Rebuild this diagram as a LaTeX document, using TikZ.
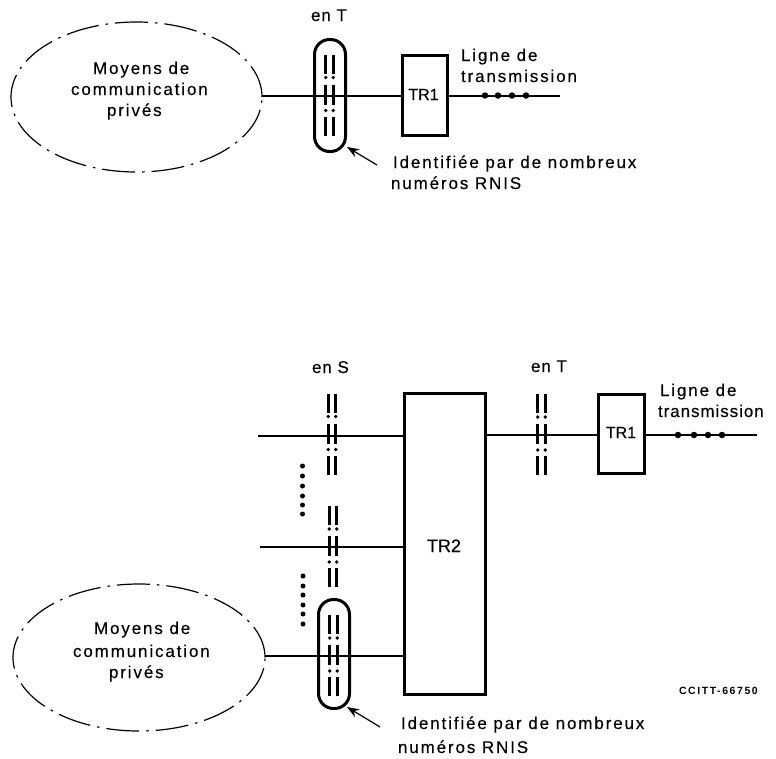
\documentclass[tikz,border=0pt]{standalone}
\usepackage{fontspec}
\setmainfont[FakeBold=0.25]{Liberation Sans}
\newfontfamily\wideface[LetterSpace=11,FakeBold=0.25]{Liberation Sans}
\newfontfamily\midface[LetterSpace=5.5,FakeBold=0.25]{Liberation Sans}
\newfontfamily\boldface[LetterSpace=15]{Liberation Sans Bold}
\usetikzlibrary{arrows.meta,shapes.geometric}
\tikzset{
  x=1pt,y=-1pt,
  every node/.style={inner sep=0pt,outer sep=0pt},
  txt/.style={anchor=base west,font=\wideface\fontsize{17}{20}\selectfont,text=black},
  midtxt/.style={anchor=base west,font=\midface\fontsize{17}{20}\selectfont,text=black},
  boxtxt/.style={anchor=base,font=\fontsize{16}{20}\selectfont,text=black},
  wire/.style={line width=2pt,black},
  box/.style={draw=black,line width=3pt,rectangle},
  cloud/.style={draw=black,line width=1.2pt,ellipse,dash pattern=on 33pt off 7pt on 2.5pt off 7pt},
  capsule/.style={draw=black,line width=3pt,rectangle,rounded corners=15pt,minimum width=31pt},
  bar/.style={line width=3pt,black},
  pt/.style={circle,fill=black,minimum size=3.8pt},
  bead/.style={circle,fill=black,minimum size=6.5pt},
  vd/.style={circle,fill=black,minimum size=5pt},
  pointer/.style={line width=1.2pt,-{Stealth[length=12pt,width=9pt]}}
}
% interrupted interface: two broken bars centred on (x,y)
\newcommand{\iface}[2]{%
  \foreach \dx in {-3.7,3.7}{%
    \draw[bar] (#1+\dx,#2-41) -- (#1+\dx,#2-22);
    \draw[bar] (#1+\dx,#2-11) -- (#1+\dx,#2+9);
    \draw[bar] (#1+\dx,#2+21) -- (#1+\dx,#2+40);
    \node[pt] at (#1+\dx,#2-18) {};
    \node[pt] at (#1+\dx,#2+15) {};
  }}
\begin{document}
\begin{tikzpicture}
\useasboundingbox (0,0) rectangle (776,758);
% ---- upper part
\node[cloud,minimum width=251pt,minimum height=150pt] (e1) at (136.5,97) {};
\node[capsule,minimum height=112pt] (c1) at (330,95.5) {};
\node[box,minimum width=45pt,minimum height=80pt] (t1) at (425,95.5) {};
\coordinate (end1) at (560,95.5);
\draw[wire] (e1.east|-t1.west) -- (t1.west);
\draw[wire] (t1.east) -- (end1);
\foreach \n/\x in {a/485,b/498,c/512,d/526}{\node[bead] (u\n) at (\x,95.5) {};}
\iface{329.5}{95.5}
\node[midtxt] (l1) at (311,21) {en T};
\node[boxtxt] (l2) at (423.5,100) {TR1};
\node[txt] (l3) at (461,61) {Ligne de};
\node[txt] (l4) at (461,82) {transmission};
\node[txt] (l5) at (393,168) {Identifiée par de nombreux};
\node[txt] (l6) at (391,189) {numéros RNIS};
\node[txt] (m1) at (93,74) {Moyens de};
\node[txt] (m2) at (71,95) {communication};
\node[txt] (m3) at (107,116) {privés};
\coordinate (p1) at (377,165);
\draw[pointer] (p1) -- ([shift={(1.5,-4.5)}]c1.south east);
% ---- lower part
\node[box,minimum width=81pt,minimum height=300.5pt] (t2) at (445,543.8) {};
\node[box,minimum width=46pt,minimum height=79pt] (t3) at (621.5,434) {};
\coordinate (s1) at (258,436);
\coordinate (s2) at (260,547);
\coordinate (end2) at (757,435);
\node[cloud,minimum width=252pt,minimum height=147pt] (e2) at (139,657.5) {};
\node[capsule,minimum height=109pt] (c2) at (334,654) {};
\coordinate (s3) at (e2.east|-0,656);
\draw[wire] (s1) -- (s1-|t2.west);
\draw[wire] (s2) -- (s2-|t2.west);
\draw[wire] (s3) -- (s3-|t2.west);
\draw[wire] (t2.east|-end2) -- (t3.west|-end2);
\draw[wire] (t3.east|-end2) -- (end2);
\foreach \n/\x in {a/678,b/694,c/708,d/722}{\node[bead] (v\n) at (\x,435) {};}
\iface{332}{434.5}
\iface{333}{547}
\iface{333.5}{656}
\iface{541.5}{435}
\foreach \n/\y in {a/466,b/476,c/486,d/496,e/505,f/514}{\node[vd] (w\n) at (302.5,\y) {};}
\foreach \n/\y in {a/576,b/586,c/595,d/605,e/614,f/624}{\node[vd] (x\n) at (303,\y) {};}
\node[midtxt] (n1) at (312,373) {en S};
\node[midtxt] (n2) at (531,372) {en T};
\node[boxtxt] (n3) at (621,438) {TR1};
\node[boxtxt,font=\fontsize{18}{20}\selectfont] (n4) at (444,552) {TR2};
\node[txt] (n5) at (660,396) {Ligne de};
\node[midtxt] (n6) at (658,417) {transmission};
\node[txt] (n7) at (401,729) {Identifiée par de nombreux};
\node[txt] (n8) at (398,753) {numéros RNIS};
\node[txt] (m4) at (94,634) {Moyens de};
\node[txt] (m5) at (73,657) {communication};
\node[txt] (m6) at (109,678) {privés};
\node[anchor=base west,font=\boldface\fontsize{10.5}{12}\selectfont] (n9) at (679,694) {CCITT-66750};
\coordinate (p2) at (380,727);
\draw[pointer] (p2) -- ([shift={(-2.5,-1.5)}]c2.south east);
\end{tikzpicture}
\end{document}
